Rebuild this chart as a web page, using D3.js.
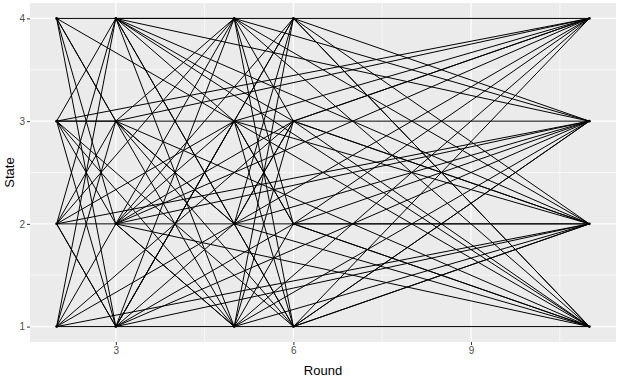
<!DOCTYPE html>
<html>
<head>
<meta charset="utf-8">
<script src="https://cdn.jsdelivr.net/npm/d3@7"></script>
<style>
body { margin: 0; background: #fff; }
text { font-family: "Liberation Sans", Arial, sans-serif; }
</style>
</head>
<body>
<svg id="chart"></svg>
<script>
// rounds where the state was recorded
var rounds = [2, 3, 5, 6, 11];
var states = [1, 2, 3, 4];
var xTicks = [3, 6, 9];

// one row per subject: state at each round (null = not observed)
var paths = [
  [1, 1, 2, 1, 1],
  [2, 1, 3, 1, 2],
  [3, 1, 4, 1, 3],
  [4, 1, 1, 1, 4],
  [1, 2, 3, 2, 1],
  [2, 2, 4, 2, 2],
  [3, 2, 1, 2, 3],
  [4, 2, 2, 2, 4],
  [1, 3, 4, 3, 1],
  [2, 3, 1, 3, 2],
  [3, 3, 2, 3, 3],
  [4, 3, 3, 3, 4],
  [1, 4, 1, 4, 1],
  [2, 4, 2, 4, 2],
  [3, 4, 3, 4, 3],
  [4, 4, 4, 4, 4],
  [3, 3, 2, null, 4],
  [null, 3, null, null, 4],
  [3, null, null, null, 4],
  [null, 4, 4, null, 3],
  [4, null, 3, 2, 1],
  [1, null, 2, 3, 2],
  [1, null, null, 3, 4],
  [null, 2, null, 4, 1],
  [null, 1, 3, null, 2],
  [2, 1, null, null, 3],
  [null, 4, null, 1, 2],
  [null, 2, 1, null, 3],
  [4, 3, null, null, 1],
  [2, null, 4, null, 1],
  [null, 1, null, 2, 2],
  [3, null, null, 1, 3],
  [null, 2, null, null, 4],
  [null, null, 1, null, 4],
  [null, null, 3, null, 4],
  [null, 4, null, null, 2],
  [null, null, 4, null, 2],
  [null, 1, null, null, 2],
  [null, null, 1, null, 2],
  [null, 2, null, null, 1],
  [null, null, 3, null, 1],
  [null, null, 2, null, 1],
  [null, 4, null, null, 1],
  [null, null, 2, null, 3],
  [null, 2, null, null, 3],
  [null, 4, null, null, 3],
  [2, null, null, null, 3],
  [1, null, null, null, 2],
  [null, 4, null, 3, null],
  [null, 3, null, 1, null],
  [null, 1, null, 4, null],
  [null, 2, null, 3, null],
  [3, null, 1, null, null],
  [2, null, 3, null, null]
];

var W = 620, H = 379;
var margin = {top: 3, right: 4, bottom: 37, left: 30};
var width = W - margin.left - margin.right;
var height = H - margin.top - margin.bottom;

var x = d3.scaleLinear().domain([1.55, 11.45]).range([0, width]);
var y = d3.scaleLinear().domain([0.85, 4.15]).range([height, 0]);

var svg = d3.select("#chart").attr("width", W).attr("height", H);
var g = svg.append("g").attr("transform", "translate(" + margin.left + "," + margin.top + ")");

// panel background
g.append("rect").attr("width", width).attr("height", height).attr("fill", "#EBEBEB");

// minor grid
var xMinor = [4.5, 7.5, 10.5];
var yMinor = [1.5, 2.5, 3.5];
g.selectAll(".xminor").data(xMinor).enter().append("line")
  .attr("x1", function(d){ return x(d); }).attr("x2", function(d){ return x(d); })
  .attr("y1", 0).attr("y2", height)
  .attr("stroke", "#fff").attr("stroke-width", 0.6);
g.selectAll(".yminor").data(yMinor).enter().append("line")
  .attr("y1", function(d){ return y(d); }).attr("y2", function(d){ return y(d); })
  .attr("x1", 0).attr("x2", width)
  .attr("stroke", "#fff").attr("stroke-width", 0.6);

// major grid
g.selectAll(".xmajor").data(xTicks).enter().append("line")
  .attr("x1", function(d){ return x(d); }).attr("x2", function(d){ return x(d); })
  .attr("y1", 0).attr("y2", height)
  .attr("stroke", "#fff").attr("stroke-width", 1.2);
g.selectAll(".ymajor").data(states).enter().append("line")
  .attr("y1", function(d){ return y(d); }).attr("y2", function(d){ return y(d); })
  .attr("x1", 0).attr("x2", width)
  .attr("stroke", "#fff").attr("stroke-width", 1.2);

// lines for each subject, skipping unobserved rounds
var line = d3.line()
  .x(function(d){ return x(d[0]); })
  .y(function(d){ return y(d[1]); });

var pts = paths.map(function(p){
  return p.map(function(s, i){ return [rounds[i], s]; })
          .filter(function(d){ return d[1] !== null; });
});

g.selectAll(".path").data(pts).enter().append("path")
  .attr("d", line)
  .attr("fill", "none")
  .attr("stroke", "#000")
  .attr("stroke-width", 1)
  .attr("stroke-linejoin", "round");

// points where states were observed
var nodes = [];
rounds.forEach(function(r){ states.forEach(function(s){ nodes.push([r, s]); }); });
g.selectAll(".pt").data(nodes).enter().append("circle")
  .attr("cx", function(d){ return x(d[0]); })
  .attr("cy", function(d){ return y(d[1]); })
  .attr("r", 1.4)
  .attr("fill", "#000");

// axes
var xAxis = d3.axisBottom(x).tickValues(xTicks).tickSize(3).tickPadding(2).tickFormat(d3.format("d"));
var yAxis = d3.axisLeft(y).tickValues(states).tickSize(3).tickPadding(2).tickFormat(d3.format("d"));

var xg = g.append("g").attr("transform", "translate(0," + height + ")").call(xAxis);
var yg = g.append("g").call(yAxis);
[xg, yg].forEach(function(a){
  a.select(".domain").remove();
  a.selectAll(".tick line").attr("stroke", "#333").attr("stroke-width", 1);
  a.selectAll(".tick text").attr("fill", "#4D4D4D").style("font-size", "10px");
});

// axis titles
svg.append("text")
  .attr("x", margin.left + width / 2).attr("y", H - 4)
  .attr("text-anchor", "middle")
  .style("font-size", "13px")
  .text("Round");

svg.append("text")
  .attr("transform", "translate(14," + (margin.top + height / 2) + ") rotate(-90)")
  .attr("text-anchor", "middle")
  .style("font-size", "13px")
  .text("State");
</script>
</body>
</html>
